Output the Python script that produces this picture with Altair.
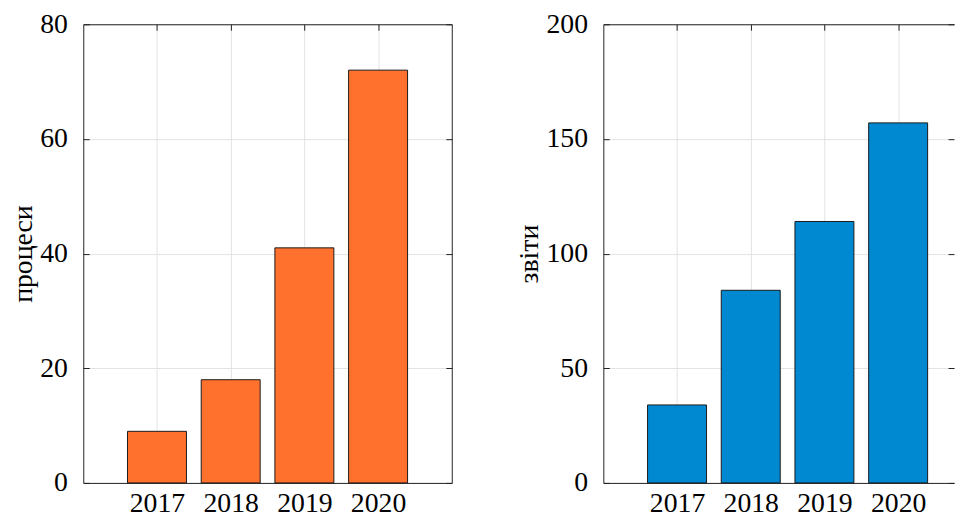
import altair as alt
import pandas as pd

years = [2017, 2018, 2019, 2020]
processes = [9, 18, 41, 72]
reports = [34, 84, 114, 157]
left_title = "процеси"
right_title = "звіти"
orange = "#FF712D"
blue = "#0089D1"

FONT = "Liberation Serif"
FS = 28
W, H = 372, 463
RIGHT_W = 354
HALF = 0.4
FRAME = "#222222"


def panel(values, title, ymax, ystep, color, width, xmax, right_frame):
    df = pd.DataFrame({"year": years, "value": values})
    df["x0"] = df["year"] - HALF
    df["x1"] = df["year"] + HALF
    df["zero"] = 0
    xs = alt.Scale(domain=[2016, xmax], nice=False, zero=False)
    ys = alt.Scale(domain=[0, ymax], nice=False, zero=True)
    yvals = list(range(0, ymax + 1, ystep))

    def layer(x_axis, y_axis, visible):
        mark = alt.Chart(df).mark_rect(
            fill=color, stroke="#1a1a1a", strokeWidth=1,
            opacity=1 if visible else 0,
        )
        return mark.encode(
            x=alt.X("x0:Q", scale=xs, axis=x_axis),
            x2="x1",
            y=alt.Y("value:Q", scale=ys, axis=y_axis),
            y2="zero",
        )

    x_lab = alt.Axis(orient="bottom", values=years, format="d", title=None,
                     grid=True, gridColor="#e3e3e3", gridWidth=1,
                     ticks=False, domain=True, domainColor=FRAME, domainWidth=1,
                     labelFont=FONT, labelFontSize=FS,
                     labelColor="black", labelPadding=7, labelOverlap=False,
                     labelFlush=False)
    y_lab = alt.Axis(orient="left", values=yvals, title=title,
                     grid=True, gridColor="#e3e3e3", gridWidth=1,
                     ticks=False, domain=True, domainColor=FRAME, domainWidth=1,
                     labelFont=FONT, labelFontSize=FS,
                     labelColor="black", labelPadding=16, labelOverlap=False,
                     titleFont=FONT, titleFontSize=FS, titleFontWeight="normal",
                     titleColor="black", titlePadding=2)

    def tick_axis(orient, vals):
        return alt.Axis(orient=orient, values=vals, offset=-6, tickSize=6,
                        tickColor=FRAME, tickWidth=1, labels=False, grid=False,
                        domain=False, title=None)

    def frame_axis(orient, vals, show):
        return alt.Axis(orient=orient, values=vals, ticks=False, labels=False,
                        grid=False, domain=show, domainColor=FRAME, domainWidth=1,
                        title=None)

    l1 = layer(x_lab, y_lab, True)
    l2 = layer(tick_axis("top", years), tick_axis("right", yvals), False)
    l3 = layer(tick_axis("bottom", years), tick_axis("left", yvals), False)
    l4 = layer(frame_axis("top", years, True), frame_axis("right", yvals, right_frame), False)
    return alt.layer(l1, l2, l3, l4).resolve_axis(x="independent", y="independent").properties(
        width=width, height=H)


left = panel(processes, left_title, 80, 20, orange, W, 2021, True)
right = panel(reports, right_title, 200, 50, blue, RIGHT_W,
              2016 + RIGHT_W * 5 / W, False)

chart = alt.hconcat(left, right, spacing=64).properties(
    padding={"left": 2, "top": 0, "right": 0, "bottom": 0}
).configure_view(stroke=None)

chart.save("out.html", embed_options={"renderer": "svg", "actions": False})
